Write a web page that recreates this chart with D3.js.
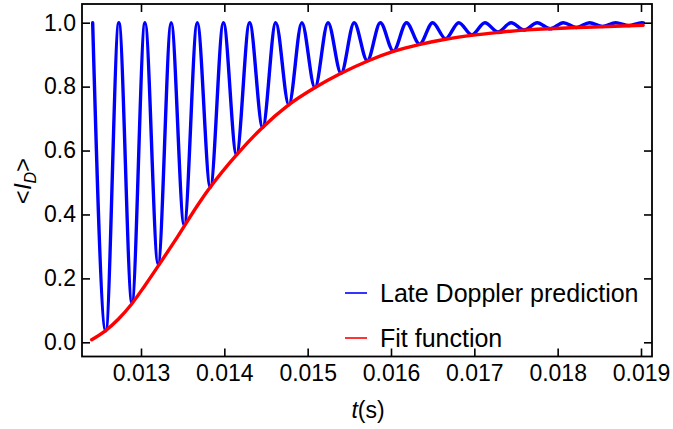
<!DOCTYPE html>
<html>
<head>
<meta charset="utf-8">
<script src="https://cdn.jsdelivr.net/npm/d3@7"></script>
<style>
  html, body { margin: 0; padding: 0; background: #fff; }
  svg { display: block; font-family: "Liberation Sans", Arial, sans-serif; }
</style>
</head>
<body>
<svg id="chart" width="673" height="429"></svg>
<script>
// ---- data ----
// Late Doppler prediction: alternating maxima / minima (time in s, <I_D>)
const blueT = [0.012420, 0.012577, 0.012734, 0.012891, 0.013048, 0.013205, 0.013362, 0.013518,
  0.013675, 0.013832, 0.013989, 0.014146, 0.014303, 0.014460, 0.014617, 0.014774, 0.014930,
  0.015087, 0.015244, 0.015401, 0.015558, 0.015715, 0.015872, 0.016029, 0.016186, 0.016343,
  0.016500, 0.016656, 0.016813, 0.016970, 0.017127, 0.017284, 0.017441, 0.017598, 0.017755,
  0.017911, 0.018068, 0.018225, 0.018382, 0.018539, 0.018696, 0.018853, 0.019010, 0.019030];
const blueI = [1.000, 0.036, 1.000, 0.125, 1.000, 0.245, 1.000, 0.366,
  1.000, 0.485, 1.000, 0.587, 1.000, 0.672, 1.000, 0.743, 1.000,
  0.797, 1.000, 0.842, 1.000, 0.881, 1.000, 0.911, 1.000, 0.933,
  1.000, 0.950, 1.000, 0.962, 1.000, 0.971, 1.000, 0.977, 1.000,
  0.981, 1.000, 0.985, 1.000, 0.988, 1.000, 0.991, 1.000, 0.9995];

// Fit function
const redT = [0.012408, 0.012568, 0.012727, 0.012888, 0.013048, 0.013248, 0.013408, 0.013708,
  0.013828, 0.014149, 0.014449, 0.014768, 0.015089, 0.015389, 0.015729, 0.016029, 0.016349,
  0.016670, 0.016989, 0.017310, 0.017550, 0.018150, 0.018600, 0.019026];
const redI = [0.008, 0.035, 0.072, 0.120, 0.178, 0.255, 0.318, 0.440,
  0.484, 0.587, 0.670, 0.742, 0.797, 0.840, 0.881, 0.910, 0.932,
  0.949, 0.961, 0.970, 0.976, 0.984, 0.988, 0.992];

const xTicks = [0.013, 0.014, 0.015, 0.016, 0.017, 0.018, 0.019];
const xTickLabels = ["0.013", "0.014", "0.015", "0.016", "0.017", "0.018", "0.019"];
const yTicks = [0.0, 0.2, 0.4, 0.6, 0.8, 1.0];
const yTickLabels = ["0.0", "0.2", "0.4", "0.6", "0.8", "1.0"];
const seriesNames = ["Late Doppler prediction", "Fit function"];
const seriesColors = ["#0000ff", "#ff0000"];

// ---- layout ----
const frame = { left: 82, right: 652, top: 4, bottom: 356.5 };
const svg = d3.select("#chart");

const x = d3.scaleLinear().domain([0.012292, 0.019132]).range([frame.left, frame.right]);
const y = d3.scaleLinear().domain([-0.0444, 1.0585]).range([frame.bottom, frame.top]);

svg.append("clipPath").attr("id", "clip")
  .append("rect").attr("x", frame.left).attr("y", frame.top)
  .attr("width", frame.right - frame.left).attr("height", frame.bottom - frame.top);

const plot = svg.append("g").attr("clip-path", "url(#clip)");

const line = d3.line().curve(d3.curveMonotoneX).x(d => x(d[0])).y(d => y(d[1]));

const blueData = blueT.map((t, i) => [t, blueI[i]]);
const redData = redT.map((t, i) => [t, redI[i]]);

plot.append("path").datum(blueData).attr("d", line)
  .attr("fill", "none").attr("stroke", seriesColors[0]).attr("stroke-width", 3.4)
  .attr("stroke-linejoin", "round").attr("stroke-linecap", "round");
plot.append("path").datum(redData).attr("d", line)
  .attr("fill", "none").attr("stroke", seriesColors[1]).attr("stroke-width", 3.4)
  .attr("stroke-linecap", "round");

// ---- axes / frame ----
const tickLen = 8;
const fontSize = 23;

const axB = d3.axisBottom(x).tickValues(xTicks).tickSizeInner(-tickLen).tickSizeOuter(0)
  .tickFormat((d, i) => xTickLabels[i]).tickPadding(8);
const axT = d3.axisTop(x).tickValues(xTicks).tickSizeInner(-tickLen).tickSizeOuter(0).tickFormat("");
const axL = d3.axisLeft(y).tickValues(yTicks).tickSizeInner(-tickLen).tickSizeOuter(0)
  .tickFormat((d, i) => yTickLabels[i]).tickPadding(6);
const axR = d3.axisRight(y).tickValues(yTicks).tickSizeInner(-tickLen).tickSizeOuter(0).tickFormat("");

function style(g) {
  g.select(".domain").remove();
  g.selectAll(".tick line").attr("stroke", "#000").attr("stroke-width", 1.6);
  g.selectAll(".tick text").attr("fill", "#000").style("font-size", fontSize + "px")
    .style("font-family", "'Liberation Sans', Arial, sans-serif");
}
svg.append("g").attr("transform", `translate(0,${frame.bottom})`).call(axB).call(style);
svg.append("g").attr("transform", `translate(0,${frame.top})`).call(axT).call(style);
svg.append("g").attr("transform", `translate(${frame.left},0)`).call(axL).call(style);
svg.append("g").attr("transform", `translate(${frame.right},0)`).call(axR).call(style);

svg.append("rect").attr("x", frame.left).attr("y", frame.top)
  .attr("width", frame.right - frame.left).attr("height", frame.bottom - frame.top)
  .attr("fill", "none").attr("stroke", "#000").attr("stroke-width", 1.8);

// axis titles
const xt = svg.append("text").attr("x", 368).attr("y", 418).attr("text-anchor", "middle")
  .style("font-size", "23px").attr("fill", "#000");
xt.append("tspan").style("font-style", "italic").text("t");
xt.append("tspan").text("(s)");

const yt = svg.append("text").attr("transform", "translate(31,181) rotate(-90)")
  .attr("text-anchor", "middle").style("font-size", "24px").attr("fill", "#000");
yt.append("tspan").text("<");
yt.append("tspan").style("font-style", "italic").text("I");
yt.append("tspan").style("font-style", "italic").style("font-size", "16px").attr("dy", 5).text("D");
yt.append("tspan").attr("dy", -5).text(">");

// legend
const legend = svg.append("g");
seriesNames.forEach((name, i) => {
  const ly = 293 + i * 45;
  legend.append("line").attr("x1", 345).attr("x2", 367).attr("y1", ly).attr("y2", ly)
    .attr("stroke", seriesColors[i]).attr("stroke-width", 1.6);
  legend.append("text").attr("x", 380).attr("y", ly + 8.5)
    .style("font-size", "25px").attr("fill", "#000").text(name);
});
</script>
</body>
</html>
